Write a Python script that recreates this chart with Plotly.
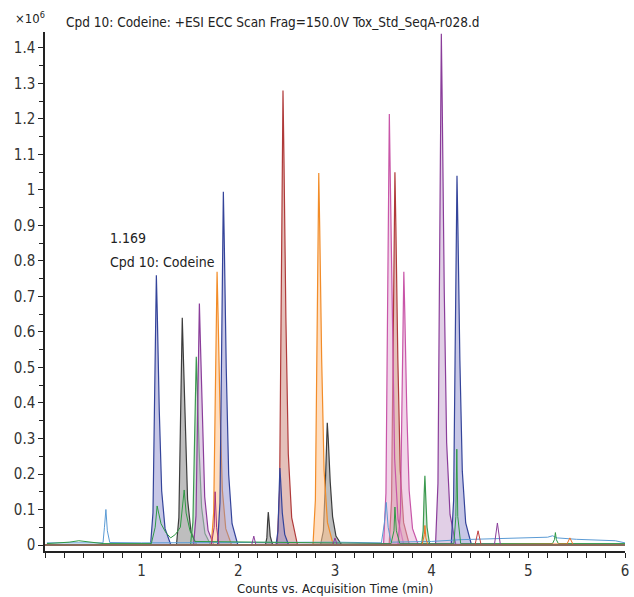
import plotly.graph_objects as go

# ---- data (x: acquisition time, min; y: counts x10^6); None separates peaks ----
blue_fill_t = [1.092, 1.117, 1.132, 1.144, 1.152, 1.162, 1.182, 1.207, 1.242, 1.302, None,
               1.785, 1.81, 1.825, 1.837, 1.845, 1.855, 1.875, 1.90, 1.935, 1.995, None,
               2.39, 2.41, 2.422, 2.43, 2.438, 2.455, 2.48, 2.52, None,
               4.202, 4.227, 4.242, 4.254, 4.262, 4.272, 4.292, 4.317, 4.352, 4.412]
blue_fill_y = [0, 0.091, 0.38, 0.646, 0.76, 0.646, 0.38, 0.152, 0.046, 0, None,
               0, 0.119, 0.498, 0.846, 0.995, 0.846, 0.498, 0.199, 0.06, 0, None,
               0, 0.04, 0.15, 0.217, 0.18, 0.09, 0.03, 0, None,
               0, 0.125, 0.52, 0.884, 1.04, 0.884, 0.52, 0.208, 0.062, 0]

gray_fill_t = [1.36, 1.385, 1.40, 1.412, 1.42, 1.43, 1.45, 1.475, 1.51, 1.57, None,
               2.28, 2.295, 2.303, 2.31, 2.317, 2.33, 2.355, None,
               2.85, 2.88, 2.90, 2.912, 2.92, 2.93, 2.95, 2.975, 3.01, 3.07]
gray_fill_y = [0, 0.077, 0.32, 0.544, 0.64, 0.544, 0.32, 0.128, 0.038, 0, None,
               0, 0.02, 0.065, 0.093, 0.07, 0.025, 0, None,
               0, 0.04, 0.17, 0.29, 0.344, 0.30, 0.18, 0.08, 0.025, 0]

green_fill_t = [1.505, 1.53, 1.545, 1.557, 1.565, 1.575, 1.595, 1.62, 1.655, 1.715, None,
                3.895, 3.912, 3.922, 3.93, 3.938, 3.952, 3.98]
green_fill_y = [0, 0.064, 0.265, 0.45, 0.53, 0.45, 0.265, 0.106, 0.032, 0, None,
                0, 0.04, 0.14, 0.195, 0.14, 0.05, 0]

purple_fill_t = [1.537, 1.562, 1.577, 1.589, 1.597, 1.607, 1.627, 1.652, 1.687, 1.747, None,
                 4.04, 4.065, 4.08, 4.092, 4.10, 4.11, 4.13, 4.155, 4.19, 4.25]
purple_fill_y = [0, 0.082, 0.34, 0.578, 0.68, 0.578, 0.34, 0.136, 0.041, 0, None,
                 0, 0.173, 0.72, 1.224, 1.44, 1.224, 0.72, 0.288, 0.086, 0]

orange_fill_t = [1.72, 1.745, 1.76, 1.772, 1.78, 1.79, 1.81, 1.835, 1.87, 1.93, None,
                 2.772, 2.797, 2.812, 2.824, 2.832, 2.842, 2.862, 2.887, 2.922, 2.982]
orange_fill_y = [0, 0.092, 0.385, 0.655, 0.77, 0.655, 0.385, 0.154, 0.046, 0, None,
                 0, 0.126, 0.524, 0.891, 1.048, 0.891, 0.524, 0.21, 0.063, 0]

red_fill_t = [2.402, 2.427, 2.442, 2.454, 2.462, 2.472, 2.492, 2.517, 2.552, 2.612, None,
              3.56, 3.585, 3.60, 3.612, 3.62, 3.63, 3.65, 3.675, 3.71, 3.77]
red_fill_y = [0, 0.154, 0.64, 1.088, 1.28, 1.088, 0.64, 0.256, 0.077, 0, None,
              0, 0.126, 0.525, 0.893, 1.05, 0.893, 0.525, 0.21, 0.063, 0]

pink_fill_t = [3.502, 3.527, 3.542, 3.554, 3.562, 3.572, 3.592, 3.617, 3.652, 3.712, None,
               3.652, 3.677, 3.692, 3.704, 3.712, 3.722, 3.742, 3.767, 3.802, 3.862]
pink_fill_y = [0, 0.146, 0.607, 1.032, 1.214, 1.032, 0.607, 0.243, 0.073, 0, None,
               0, 0.092, 0.385, 0.655, 0.77, 0.655, 0.385, 0.154, 0.046, 0]

lightblue_t = [0.02, 0.30, 0.60, 0.615, 0.63, 0.645, 0.67, 1.00, 3.00, 3.48, 3.51, 3.53,
               3.55, 3.58, 4.00, 4.30, 4.60, 5.00, 5.20, 5.25, 5.30, 5.50, 5.90, 6.00]
lightblue_y = [0.006, 0.007, 0.006, 0.05, 0.10, 0.04, 0.007, 0.006, 0.008, 0.006, 0.06, 0.12,
               0.05, 0.008, 0.010, 0.015, 0.018, 0.020, 0.022, 0.026, 0.020, 0.016, 0.012, 0.006]

green_line_t = [0.02, 0.25, 0.35, 0.45, 0.60, 1.10, 1.14, 1.16, 1.20, 1.25, 1.30, 1.35, 1.40,
                1.44, 1.46, 1.50, 1.55, 3.58, 3.61, 3.62, 3.635, 3.67, 4.23, 4.25, 4.26,
                4.27, 4.30, 5.25, 5.27, 5.28, 5.29, 5.31, 6.00]
green_line_y = [0.004, 0.008, 0.012, 0.008, 0.004, 0.004, 0.05, 0.11, 0.06, 0.035, 0.02, 0.03, 0.05,
                0.155, 0.09, 0.04, 0.01, 0.004, 0.04, 0.107, 0.04, 0.004, 0.004, 0.08, 0.27,
                0.08, 0.004, 0.004, 0.015, 0.035, 0.015, 0.004, 0.004]

magenta_line_t = [1.72, 1.75, 1.76, 1.775, 1.80]
magenta_line_y = [0.0, 0.05, 0.15, 0.05, 0.0]

purple_line_t = [2.14, 2.16, 2.18, 2.98, 3.00, 3.02, 4.65, 4.68, 4.71]
purple_line_y = [0.002, 0.025, 0.002, 0.002, 0.02, 0.002, 0.002, 0.062, 0.002]

orange_line_t = [3.90, 3.925, 3.93, 3.94, 3.96, 5.40, 5.43, 5.46]
orange_line_y = [0.0, 0.03, 0.055, 0.02, 0.0, 0.003, 0.02, 0.003]

red_line_t = [4.45, 4.48, 4.51]
red_line_y = [0.002, 0.04, 0.002]

base_t = [0.0, 6.0]
base_y = [0.0, 0.0]

x_ticks = [1, 2, 3, 4, 5, 6]

FONT = "DejaVu Sans Condensed, Liberation Sans Narrow, sans-serif"


def segments(ts, ys):
    segs, cur_t, cur_y = [], [], []
    for t, y in zip(ts, ys):
        if t is None:
            if cur_t:
                segs.append((cur_t, cur_y))
            cur_t, cur_y = [], []
        else:
            cur_t.append(t)
            cur_y.append(y)
    if cur_t:
        segs.append((cur_t, cur_y))
    return segs


fig = go.Figure()

fills = [
    (gray_fill_t, gray_fill_y, "#3c3c3c", "rgba(110,110,110,0.45)"),
    (green_fill_t, green_fill_y, "#3c9a50", "rgba(150,195,160,0.45)"),
    (purple_fill_t, purple_fill_y, "#8a3d9a", "rgba(195,160,205,0.5)"),
    (orange_fill_t, orange_fill_y, "#f28c28", "rgba(255,195,140,0.55)"),
    (red_fill_t, red_fill_y, "#b03a3a", "rgba(205,140,130,0.55)"),
    (pink_fill_t, pink_fill_y, "#c855a8", "rgba(228,170,210,0.5)"),
    (blue_fill_t, blue_fill_y, "#34449a", "rgba(130,130,200,0.45)"),
]
for ts, ys, lc, fc in fills:
    for t, y in segments(ts, ys):
        fig.add_trace(go.Scatter(x=t, y=y, mode="lines", fill="tozeroy",
                                 fillcolor=fc, line=dict(color=lc, width=1.2),
                                 hoverinfo="skip", showlegend=False))

lines = [
    (lightblue_t, lightblue_y, "#5b9bd5"),
    (green_line_t, green_line_y, "#2f9a45"),
    (magenta_line_t, magenta_line_y, "#a8307a"),
    (purple_line_t, purple_line_y, "#8a3d9a"),
    (orange_line_t, orange_line_y, "#f07020"),
    (red_line_t, red_line_y, "#c04040"),
]
for t, y, lc in lines:
    fig.add_trace(go.Scatter(x=t, y=y, mode="lines",
                             line=dict(color=lc, width=1),
                             hoverinfo="skip", showlegend=False))

fig.add_trace(go.Scatter(x=base_t, y=base_y, mode="lines",
                         line=dict(color="#8a6a5a", width=2),
                         hoverinfo="skip", showlegend=False))

fig.update_layout(
    width=634, height=597,
    margin=dict(l=45, r=5, t=32, b=46),
    paper_bgcolor="white", plot_bgcolor="white",
    font=dict(family=FONT, size=14, color="#333333"),
    xaxis=dict(range=[0, 6], tickvals=x_ticks, ticktext=[str(v) for v in x_ticks],
               showgrid=False, zeroline=False, showline=True, linecolor="#222",
               linewidth=1.5, ticks="outside", ticklen=5, tickcolor="#222",
               minor=dict(dtick=0.2, ticks="outside", ticklen=5, tickcolor="#222"),
               tickfont=dict(size=15)),
    yaxis=dict(range=[-0.0169, 1.445], dtick=0.1, tick0=0,
               showgrid=False, zeroline=False, showline=True, linecolor="#222",
               linewidth=1.5, ticks="outside", ticklen=5, tickcolor="#222",
               minor=dict(dtick=0.05, ticks="outside", ticklen=4, tickcolor="#222"),
               tickfont=dict(size=15)),
    annotations=[
        dict(text="Cpd 10: Codeine: +ESI ECC Scan Frag=150.0V Tox_Std_SeqA-r028.d",
             xref="paper", yref="paper", x=(64 - 45) / 584, y=1 + 10 / 519,
             xanchor="left", yanchor="middle", showarrow=False,
             font=dict(size=13.5, color="#222")),
        dict(text="×10<sup>6</sup>", xref="paper", yref="paper",
             x=(13 - 45) / 584, y=1 + 14 / 519, xanchor="left", yanchor="middle",
             showarrow=False, font=dict(size=13, color="#222")),
        dict(text="1.169", xref="x", yref="y", x=(108 - 45) / 97.2, y=0.865,
             xanchor="left", yanchor="middle", showarrow=False,
             font=dict(size=14, color="#222")),
        dict(text="Cpd 10: Codeine", xref="x", yref="y", x=(108 - 45) / 97.2, y=0.797,
             xanchor="left", yanchor="middle", showarrow=False,
             font=dict(size=14, color="#222")),
        dict(text="Counts vs. Acquisition Time (min)", xref="paper", yref="paper",
             x=0.5, y=-37 / 519, xanchor="center", yanchor="middle", showarrow=False,
             font=dict(size=13, color="#222")),
    ],
)

fig.write_html("out.html", config={"displayModeBar": False},
               post_script="document.body.style.margin='0';")
